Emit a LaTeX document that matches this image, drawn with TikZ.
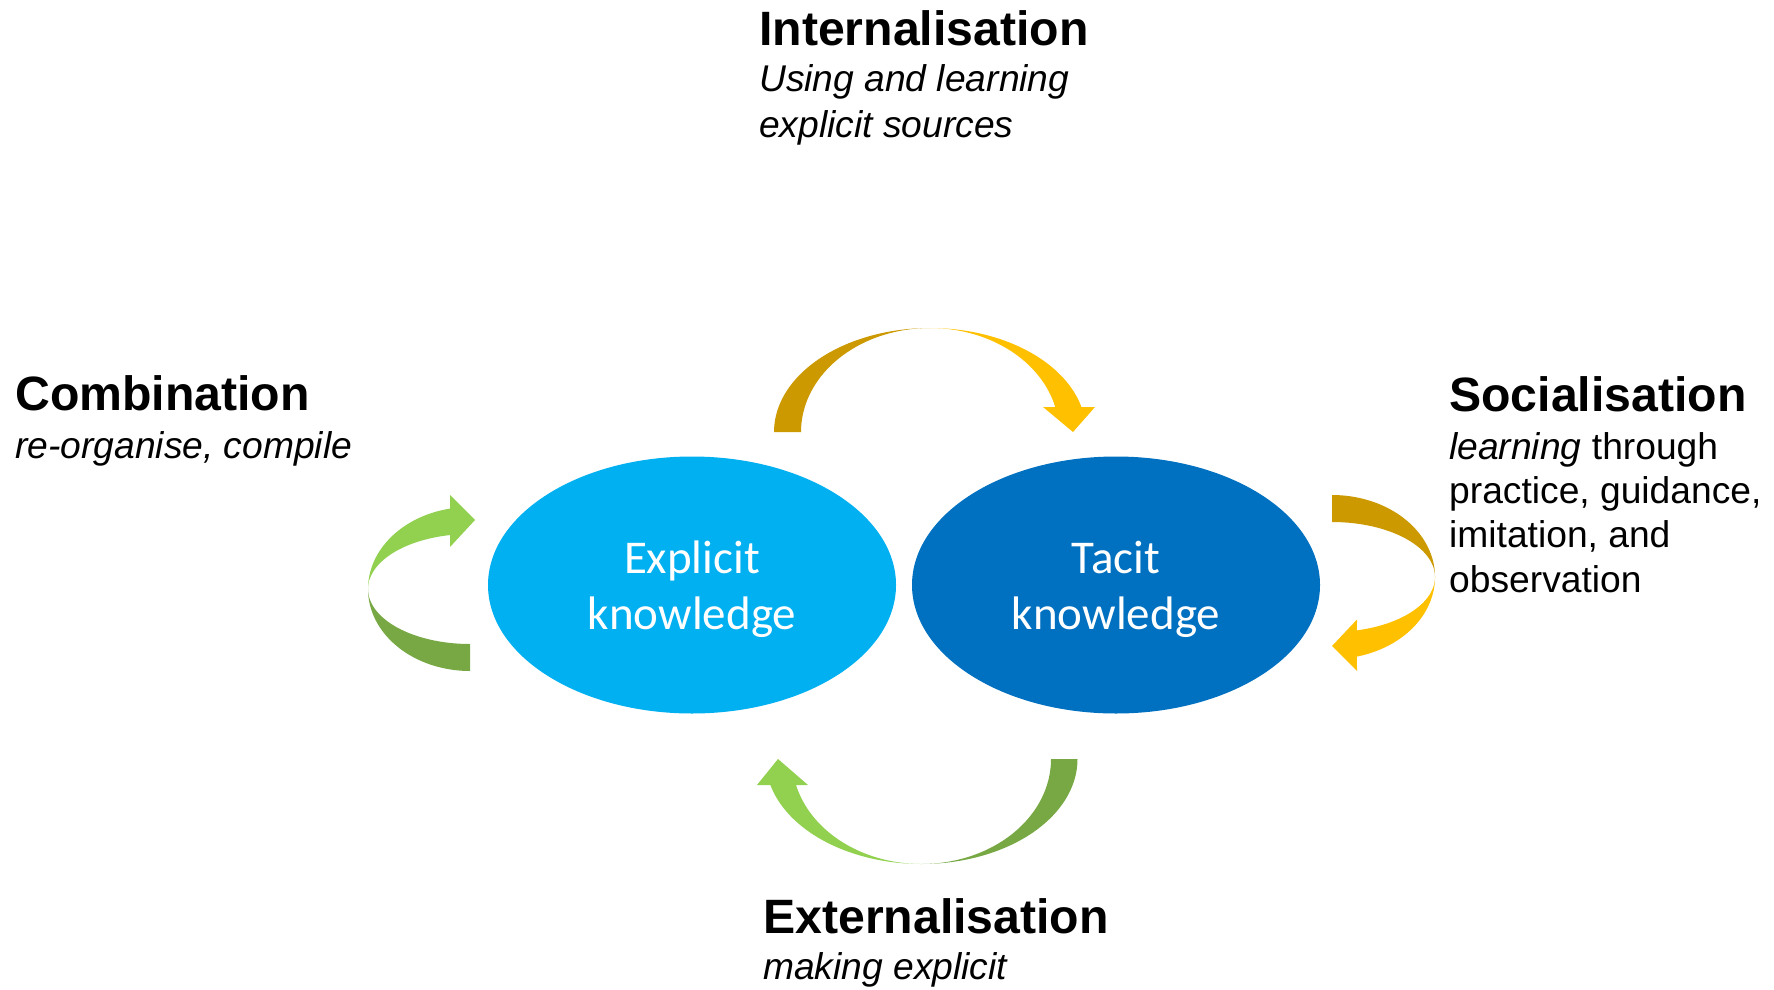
\documentclass[tikz,border=0pt]{standalone}
\usepackage{fontspec}
\setmainfont{Liberation Sans}
\newfontfamily\calibri{Carlito}
\usetikzlibrary{shapes.geometric}
\definecolor{lblue}{HTML}{00B0F0}
\definecolor{dblue}{HTML}{0070C0}
\definecolor{goldD}{HTML}{CC9900}
\definecolor{goldL}{HTML}{FFC000}
\definecolor{greenL}{HTML}{92D050}
\definecolor{greenD}{HTML}{77A843}
\begin{document}
\begin{tikzpicture}[x=1pt,y=-1pt,
  knode/.style={ellipse, minimum width=408pt, minimum height=257pt, inner sep=0pt, draw=none},
  ktext/.style={text=white, inner sep=0pt, anchor=base, font=\calibri\fontsize{47}{56.6}\selectfont},
  ttl/.style={inner sep=0pt, anchor=base west, font=\bfseries\fontsize{48.2}{55}\selectfont},
  bdy/.style={inner sep=0pt, anchor=base west, font=\fontsize{37.2}{42}\selectfont},
  pl/.style={samples=50, variable=\t}
]
\useasboundingbox (0,0) rectangle (1774,990);

% ellipses
\node[knode, fill=lblue] (explicit) at (692,585) {};
\node[knode, fill=dblue] (tacit) at (1116,585) {};
\node[ktext] (explicitlbl) at (692,573) {\begin{tabular}[t]{@{}c@{}}Explicit\\knowledge\end{tabular}};
\node[ktext] (tacitlbl) at (1116,573) {\begin{tabular}[t]{@{}c@{}}Tacit\\knowledge\end{tabular}};

% top arrow (internalisation)
\fill[goldD] plot[pl, domain=180:270] ({930+156*cos(\t)},{432+104*sin(\t)})
  -- plot[pl, domain=270:180] ({930+129*cos(\t)},{432+104*sin(\t)}) -- cycle;
\fill[goldL] plot[pl, domain=270:346.1] ({930+156*cos(\t)},{432+104*sin(\t)})
  -- (1095,407) -- (1073,432) -- (1043,407)
  -- plot[pl, domain=346.1:270] ({930+129*cos(\t)},{432+104*sin(\t)}) -- cycle;

% right arrow (socialisation)
\fill[goldD] plot[pl, domain=270:360] ({1332+103*cos(\t)},{577+82*sin(\t)})
  -- plot[pl, domain=360:270] ({1332+103*cos(\t)},{577+55*sin(\t)}) -- cycle;
\fill[goldL] plot[pl, domain=0:76] ({1332+103*cos(\t)},{577+82*sin(\t)})
  -- (1357,671) -- (1332,646) -- (1357,619.5)
  -- plot[pl, domain=76:0] ({1332+103*cos(\t)},{577+55*sin(\t)}) -- cycle;

% left arrow (combination)
\fill[greenD] plot[pl, domain=90:180] ({470+102*cos(\t)},{589+82*sin(\t)})
  -- plot[pl, domain=180:90] ({470+102*cos(\t)},{589+55*sin(\t)}) -- cycle;
\fill[greenL] plot[pl, domain=180:258.7] ({470+102*cos(\t)},{589+82*sin(\t)})
  -- (450,495) -- (475,520) -- (450,547)
  -- plot[pl, domain=258.7:180] ({470+102*cos(\t)},{589+55*sin(\t)}) -- cycle;

% bottom arrow (externalisation)
\fill[greenD] plot[pl, domain=0:90] ({921.5+156*cos(\t)},{759+105*sin(\t)})
  -- plot[pl, domain=90:0] ({921.5+129.5*cos(\t)},{759+105*sin(\t)}) -- cycle;
\fill[greenL] plot[pl, domain=90:165.66] ({921.5+156*cos(\t)},{759+105*sin(\t)})
  -- (757,785) -- (778,759) -- (808,785)
  -- plot[pl, domain=165.66:90] ({921.5+129.5*cos(\t)},{759+105*sin(\t)}) -- cycle;

% labels
\node[ttl] (intT) at (759,46) {Internalisation};
\node[bdy] (intB1) at (759,92) {\itshape Using and learning};
\node[bdy] (intB2) at (759,137) {\itshape explicit sources};
\node[ttl] (comT) at (15,410) {Combination};
\node[bdy] (comB) at (15,458) {\itshape re-organise, compile};
\node[ttl] (socT) at (1449,411) {Socialisation};
\node[bdy] (socB1) at (1449,459) {\textit{learning} through};
\node[bdy] (socB2) at (1449,503) {practice, guidance,};
\node[bdy] (socB3) at (1449,547) {imitation, and};
\node[bdy] (socB4) at (1449,592) {observation};
\node[ttl] (extT) at (763,933) {Externalisation};
\node[bdy] (extB) at (763,979) {\itshape making explicit};
\end{tikzpicture}
\end{document}
